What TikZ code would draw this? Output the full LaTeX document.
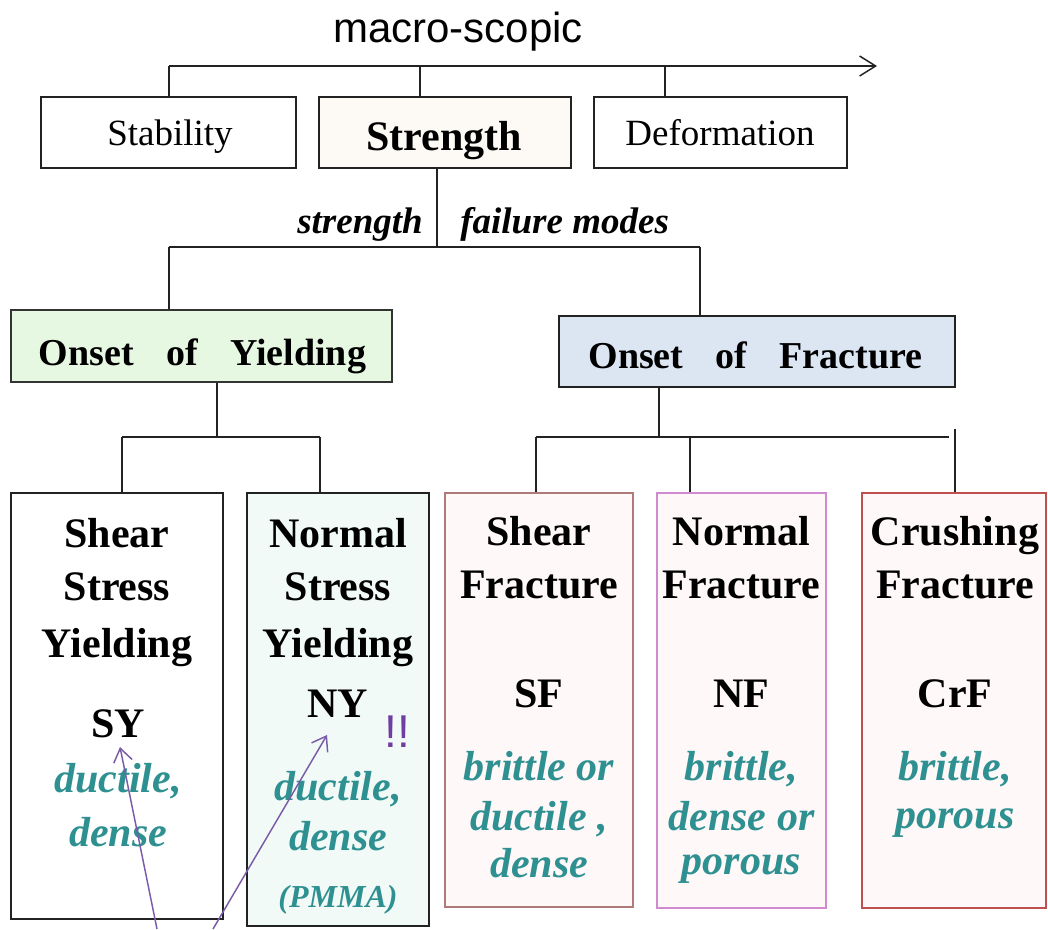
\documentclass[tikz,border=0pt]{standalone}
\usepackage{fontspec}
\setmainfont{Liberation Serif}
\newfontfamily\arialfont{Liberation Sans}
\usetikzlibrary{arrows.meta}
\definecolor{tealtxt}{HTML}{2E9090}
\definecolor{purp}{HTML}{7A5BA8}
\definecolor{purpbang}{HTML}{6E3FA0}
\definecolor{yldfill}{HTML}{E6F8E2}
\definecolor{frcfill}{HTML}{DCE6F2}
\definecolor{strfill}{HTML}{FDF9F4}
\definecolor{nyfill}{HTML}{F2FAF8}
\definecolor{pinkfill}{HTML}{FFF8F8}
\definecolor{sfborder}{HTML}{B07A7A}
\definecolor{nfborder}{HTML}{D08AD0}
\definecolor{crfborder}{HTML}{C0504D}
\definecolor{lineblk}{HTML}{222222}
\begin{document}
\begin{tikzpicture}[x=0.75pt,y=-0.75pt,
  conn/.style={draw=lineblk, line width=1.1pt},
  bx/.style 2 args={draw=lineblk, line width=1.1pt, inner sep=0pt,
     minimum width=#1*0.75pt, minimum height=#2*0.75pt},
  toptxt/.style={anchor=base, inner sep=0pt, font=\fontsize{27.75pt}{30pt}\selectfont},
  ttl/.style={anchor=base, inner sep=0pt, font=\fontsize{31.5pt}{34pt}\selectfont\bfseries},
  sub/.style={anchor=base, inner sep=0pt, text=tealtxt, font=\fontsize{31.5pt}{34pt}\selectfont\bfseries\itshape},
  lbl/.style={inner sep=0pt, font=\fontsize{27.75pt}{30pt}\selectfont\bfseries\itshape},
  onset/.style={anchor=base, inner sep=0pt, font=\fontsize{28.5pt}{30pt}\selectfont\bfseries},
  parrow/.style={draw=purp, line width=1.1pt, -{Straight Barb[length=10pt,width=14pt,line width=1.1pt]}}
]
\useasboundingbox (0,0) rectangle (1048,929);

% title and axis
\node[anchor=base, inner sep=0pt, font=\arialfont\fontsize{31.5pt}{34pt}\selectfont] (macro) at (458,42) {macro-scopic};
\coordinate (axL) at (169,66);
\coordinate (axR) at (877,66);
\draw[conn, -{Straight Barb[length=12pt,width=15pt,line width=1.1pt]}] (axL) -- (axR);

% top boxes
\node[bx={255}{71}] (stab) at (168.5,132.5) {};
\node[bx={252}{71}, fill=strfill] (str) at (445,132.5) {};
\node[bx={253}{71}] (def) at (720.5,132.5) {};
\node[toptxt] (stabT) at (170,145) {Stability};
\node[ttl] (strT) at (444,150) {Strength};
\node[toptxt] (defT) at (720,145) {Deformation};

\draw[conn] (stab.north -| axL) -- (axL);
\coordinate (tk2) at (420,66);
\coordinate (tk3) at (665,66);
\draw[conn] (tk2 |- str.north) -- (tk2);
\draw[conn] (tk3 |- def.north) -- (tk3);

% strength failure modes
\coordinate (j1) at (437,247);
\coordinate (h1L) at (169,247);
\coordinate (h1R) at (700,247);
\draw[conn] (j1 |- str.south) -- (j1);
\draw[conn] (h1L) -- (h1R);
\node[lbl, anchor=base east] (lblA) at (423,233) {strength};
\node[lbl, anchor=base west] (lblB) at (460,233) {failure modes};

% onset boxes
\node[bx={381}{72}, fill=yldfill, draw=black!80] (yld) at (201.5,346) {};
\node[bx={396}{71}, fill=frcfill] (frc) at (757,351.5) {};
\node[onset] (yldT) at (202.5,365) {Onset\hspace{0.85em}of\hspace{0.85em}Yielding};
\node[onset] (frcT) at (755.5,368) {Onset\hspace{0.85em}of\hspace{0.85em}Fracture};
\draw[conn] (h1L) -- (h1L |- yld.north);
\draw[conn] (h1R) -- (h1R |- frc.north);

% lower boxes
\node[bx={212}{426}] (sy) at (117,706) {};
\node[bx={182}{433}, fill=nyfill] (ny) at (338,709.5) {};
\node[bx={188}{414}, fill=pinkfill, draw=sfborder] (sf) at (539,700) {};
\node[bx={169}{415}, fill=pinkfill, draw=nfborder] (nf) at (741.5,700.5) {};
\node[bx={184}{415}, fill=pinkfill, draw=crfborder] (crf) at (954,700.5) {};

% yielding branch
\coordinate (j2) at (217,437);
\coordinate (h2L) at (122,437);
\coordinate (h2R) at (320,437);
\draw[conn] (j2 |- yld.south) -- (j2);
\draw[conn] (h2L) -- (h2R);
\draw[conn] (h2L) -- (h2L |- sy.north);
\draw[conn] (h2R) -- (h2R |- ny.north);

% fracture branch
\coordinate (j3) at (659,437);
\coordinate (h3L) at (536,437);
\coordinate (h3R) at (949,437);
\coordinate (h3M) at (690,437);
\coordinate (c3) at (955,429);
\draw[conn] (j3 |- frc.south) -- (j3);
\draw[conn] (h3L) -- (h3R);
\draw[conn] (h3L) -- (h3L |- sf.north);
\draw[conn] (h3M) -- (h3M |- nf.north);
\draw[conn] (c3) -- (c3 |- crf.north);

% SY texts
\node[ttl] (sy1) at (117,547) {Shear};
\node[ttl] (sy2) at (117,600) {Stress};
\node[ttl] (sy3) at (117,657) {Yielding};
\node[ttl] (sy4) at (118,737) {SY};
\node[sub] (sy5) at (118,792) {ductile,};
\node[sub] (sy6) at (118,846) {dense};

% NY texts
\node[ttl] (ny1) at (338,547) {Normal};
\node[ttl] (ny2) at (338,600) {Stress};
\node[ttl] (ny3) at (338,657) {Yielding};
\node[ttl] (ny4) at (338,717) {NY};
\node[anchor=base, inner sep=0pt, text=purpbang, font=\arialfont\fontsize{34.5pt}{36pt}\selectfont] (bang) at (397,747) {!!};
\node[sub] (ny5) at (338,800) {ductile,};
\node[sub] (ny6) at (338,850) {dense};
\node[sub, font=\fontsize{24pt}{26pt}\selectfont\bfseries\itshape] (ny7) at (338,907) {(PMMA)};

% SF texts
\node[ttl] (sf1) at (539,545) {Shear};
\node[ttl] (sf2) at (539,598) {Fracture};
\node[ttl] (sf3) at (539,707) {SF};
\node[sub] (sf4) at (539,780) {brittle or};
\node[sub] (sf5) at (539,830) {ductile ,};
\node[sub] (sf6) at (539,877) {dense};

% NF texts
\node[ttl] (nf1) at (741.5,545) {Normal};
\node[ttl] (nf2) at (741.5,598) {Fracture};
\node[ttl] (nf3) at (741.5,707) {NF};
\node[sub] (nf4) at (741.5,780) {brittle,};
\node[sub] (nf5) at (741.5,830) {dense or};
\node[sub] (nf6) at (741.5,874) {porous};

% CrF texts
\node[ttl] (cr1) at (955,545) {Crushing};
\node[ttl] (cr2) at (955,598) {Fracture};
\node[ttl] (cr3) at (955,707) {CrF};
\node[sub] (cr4) at (955,780) {brittle,};
\node[sub] (cr5) at (955,828) {porous};

% purple arrows
\coordinate (p1) at (157,929);
\coordinate (t1) at (120,747);
\coordinate (p2) at (213,929);
\coordinate (t2) at (327,735);
\draw[parrow] (p1) -- (t1);
\draw[parrow] (p2) -- (t2);
\end{tikzpicture}
\end{document}
